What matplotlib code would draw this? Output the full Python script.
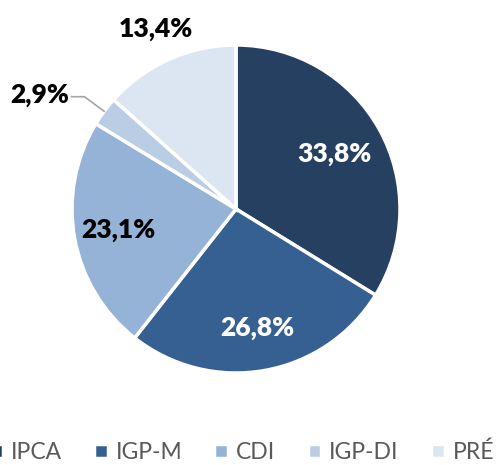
import numpy as np
import matplotlib.pyplot as plt

plt.rcParams['font.family'] = ['Lato', 'DejaVu Sans']

# shares of each index
labels = ['IPCA', 'IGP-M', 'CDI', 'IGP-DI', 'PRÉ']
shares = [33.8, 26.8, 23.1, 2.9, 13.4]
colors = ['#254061', '#376092', '#95B3D7', '#B9CDE5', '#DCE6F2']

# label radius (fraction of pie radius) and text color per slice
lab_r = [0.69, 0.74, 0.73, 1.42, 1.20]
lab_c = ['white', 'white', 'black', 'black', 'black']

W, H = 496, 465
fig = plt.figure(figsize=(W / 100, H / 100), dpi=100)
ax = fig.add_axes([0, 0, 1, 1])
ax.set_xlim(0, W)
ax.set_ylim(0, H)
ax.axis('off')

cx, cy, R = 236, H - 209, 164
wedges, _ = ax.pie(shares, colors=colors, startangle=90, counterclock=False,
                   center=(cx, cy), radius=R,
                   wedgeprops=dict(edgecolor='white', linewidth=2.5))
ax.set_xlim(0, W)
ax.set_ylim(0, H)

for i, w in enumerate(wedges):
    ang = np.deg2rad((w.theta1 + w.theta2) / 2)
    txt = f"{shares[i]:.1f}%".replace('.', ',')
    if labels[i] == 'IGP-DI':
        x0, y0 = cx + R * np.cos(ang), cy + R * np.sin(ang)
        x1, y1 = cx + 1.15 * R * np.cos(ang), cy + 1.15 * R * np.sin(ang)
        ax.plot([x0, x1, x1 - 13], [y0, y1, y1], color='#A6A6A6', lw=1.2)
        ax.text(x1 - 15, y1 + 2, txt, ha='right', va='center',
                fontsize=19, fontweight='heavy', color=lab_c[i])
    else:
        ax.text(cx + lab_r[i] * R * np.cos(ang), cy + lab_r[i] * R * np.sin(ang),
                txt, ha='center', va='center', fontsize=19,
                fontweight='heavy', color=lab_c[i])

fig.legend(wedges, labels, loc='center', bbox_to_anchor=(0.487, 0.027),
           ncol=5, frameon=False, fontsize=16.5, handlelength=0.6,
           handleheight=0.6, handletextpad=0.35, columnspacing=1.4,
           borderaxespad=0, labelcolor='#595959')

fig.savefig('out.png', dpi=100)
